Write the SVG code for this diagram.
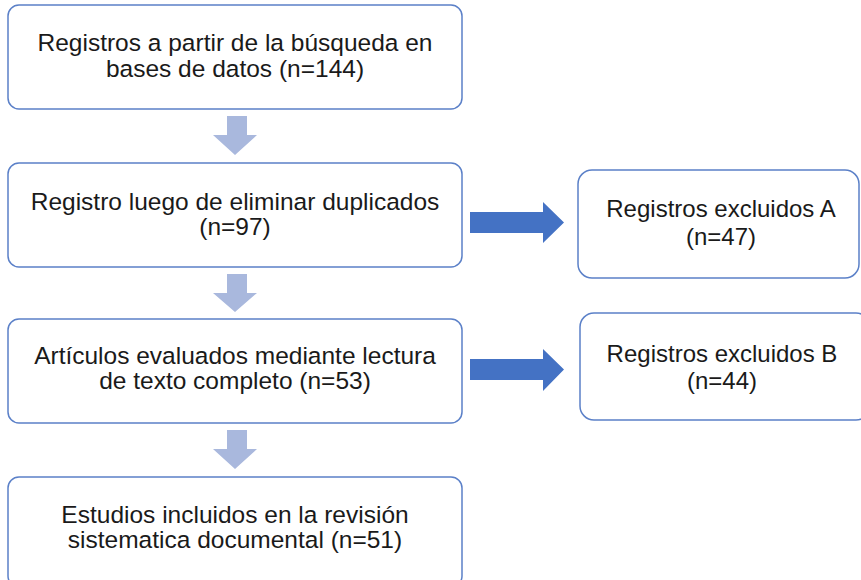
<svg xmlns="http://www.w3.org/2000/svg" width="861" height="580" viewBox="0 0 861 580">
<style>
.box{fill:#fff;stroke:#5b80c8;stroke-width:1.5}
.t{font-family:"Liberation Sans",Arial,sans-serif;font-size:24.5px;fill:#1a1a1a;text-anchor:middle}
.s{font-size:24px}
.down{fill:#a9b8dd}
.right{fill:#4472c4}
</style>
<rect width="861" height="580" fill="#fff"/>
<g id="connectors">
<path class="down" d="M227,116 H247 V135 H257 L235,155 L213,135 H227 Z"/>
<path class="down" d="M227,274 H247 V293 H257 L235,312 L213,293 H227 Z"/>
<path class="down" d="M227,430 H247 V449 H257 L235,469 L213,449 H227 Z"/>
<path class="right" d="M470,212 H543 V202 L564,222.5 L543,243 V233 H470 Z"/>
<path class="right" d="M470,359 H543 V349 L564,369.5 L543,391 V380 H470 Z"/>
</g>
<g id="n1"><rect class="box" x="8" y="5" width="454" height="104" rx="11"/>
<text class="t" x="235" y="51">Registros a partir de la búsqueda en</text>
<text class="t" x="235" y="76.5">bases de datos (n=144)</text></g>
<g id="n2"><rect class="box" x="8" y="163" width="454" height="104" rx="11"/>
<text class="t" x="235" y="209.5">Registro luego de eliminar duplicados</text>
<text class="t" x="235" y="234.5">(n=97)</text></g>
<g id="n3"><rect class="box" x="8" y="319" width="454" height="104" rx="11"/>
<text class="t" x="235" y="364">Artículos evaluados mediante lectura</text>
<text class="t" x="235" y="389">de texto completo (n=53)</text></g>
<g id="n4"><rect class="box" x="8" y="477" width="454" height="110" rx="11"/>
<text class="t" x="235" y="522.5">Estudios incluidos en la revisión</text>
<text class="t" x="235" y="547.5">sistematica documental (n=51)</text></g>
<g id="nA"><rect class="box" x="578" y="170" width="281" height="108" rx="14"/>
<text class="t s" x="721" y="217">Registros excluidos A</text>
<text class="t s" x="721" y="245">(n=47)</text></g>
<g id="nB"><rect class="box" x="580" y="313" width="290" height="107" rx="14"/>
<text class="t s" x="722" y="362">Registros excluidos B</text>
<text class="t s" x="722" y="389">(n=44)</text></g>
</svg>
